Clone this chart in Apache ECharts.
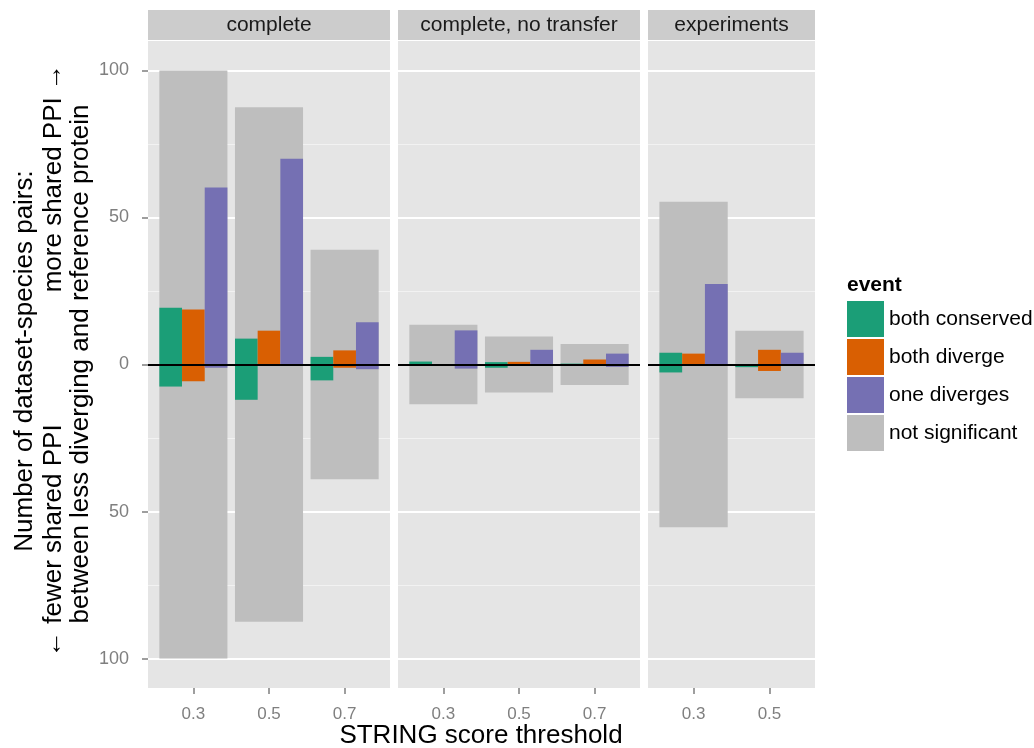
<!DOCTYPE html>
<html>
<head>
<meta charset="utf-8">
<script src="https://cdn.jsdelivr.net/npm/echarts@6/dist/echarts.min.js"></script>
<style>
html, body { margin: 0; padding: 0; background: #fff; }
#main { width: 1034px; height: 748px; }
</style>
</head>
<body>
<div id="main"></div>
<script>
// facets and x categories
var panels = ['complete', 'complete, no transfer', 'experiments'];
var thresholds = [['0.3', '0.5', '0.7'], ['0.3', '0.5', '0.7'], ['0.3', '0.5']];
var yTicks = [-100, -50, 0, 50, 100];
var yMinor = [-75, -25, 25, 75];

// grey band: +/- number of pairs that are not significant
var notSignificant = [[100, 87.5, 39], [13.5, 9.5, 7], [55.3, 11.5]];
// "more shared PPI" (up) and "fewer shared PPI" (down) per event
var conservedMore = [[19.3, 8.8, 2.6], [1.0, 0.8, 0.3], [4.0, 0]];
var conservedFewer = [[-7.5, -12, -5.4], [0, -1.1, 0], [-2.7, -0.9]];
var divergeMore = [[18.7, 11.5, 4.8], [0, 0.9, 1.7], [3.7, 5.0]];
var divergeFewer = [[-5.7, -0.3, -1.1], [0, 0, 0], [0, -2.2]];
var oneMore = [[60.2, 70, 14.4], [11.6, 5.0, 3.7], [27.4, 4.0]];
var oneFewer = [[-1.1, 0, -1.6], [-1.4, 0, -0.8], [0, 0]];

var FONT = 'Liberation Sans, Arial, Helvetica, sans-serif';
var myChart = echarts.init(document.getElementById('main'));

var lefts = [148, 398, 648], widths = [242, 242, 167];
var events = [
  {name: 'both conserved', color: '#1B9E77', up: conservedMore, down: conservedFewer},
  {name: 'both diverge', color: '#D95F02', up: divergeMore, down: divergeFewer},
  {name: 'one diverges', color: '#7570B3', up: oneMore, down: oneFewer}
];

function pts(arr) {
  return arr.map(function (v, i) { return [i + 1, v]; });
}

var grids = [], xAxes = [], yAxes = [], series = [], graphics = [];

for (var k = 0; k < panels.length; k++) {
  var n = thresholds[k].length;
  var pos = [];
  for (var i = 1; i <= n; i++) pos.push(i);

  grids.push({left: lefts[k], top: 41, width: widths[k], height: 647,
    show: true, backgroundColor: '#E5E5E5', borderWidth: 0});

  // hidden axis for the grey band, visible one for the dodged bars
  xAxes.push({type: 'value', gridIndex: k, position: 'top', min: 0.4, max: n + 0.6, show: false});
  xAxes.push({type: 'value', gridIndex: k, position: 'bottom', min: 0.4, max: n + 0.6,
    axisLine: {show: false},
    splitLine: {show: false},
    axisTick: {show: true, customValues: pos, length: 6, lineStyle: {color: '#7F7F7F', width: 1.5}},
    axisLabel: {show: true, customValues: pos, margin: 18, color: '#7F7F7F', fontSize: 17, fontFamily: FONT,
      formatter: (function (cats) { return function (v) { return cats[Math.round(v) - 1]; }; })(thresholds[k])}
  });

  yAxes.push({type: 'value', gridIndex: k, min: -110, max: 110,
    axisLine: {show: false},
    splitLine: {show: false},
    axisTick: {show: k === 0, customValues: yTicks, length: 6, lineStyle: {color: '#7F7F7F', width: 1.5}},
    axisLabel: {show: k === 0, customValues: yTicks, margin: 19, color: '#7F7F7F', fontSize: 18, fontFamily: FONT,
      formatter: function (v) { return Math.abs(v); }}
  });

  var gridLines = [];
  yTicks.forEach(function (v) { gridLines.push({yAxis: v, lineStyle: {color: '#FFFFFF', width: 2, type: 'solid'}}); });
  yMinor.forEach(function (v) { gridLines.push({yAxis: v, lineStyle: {color: '#F2F2F2', width: 1, type: 'solid'}}); });

  series.push({
    name: 'not significant', type: 'bar', xAxisIndex: 2 * k, yAxisIndex: k, stack: 'ns' + k,
    barWidth: '90%', itemStyle: {color: '#BEBEBE'}, data: pts(notSignificant[k]),
    markLine: {z: 1, silent: true, symbol: 'none', label: {show: false}, animation: false, data: gridLines}
  });
  series.push({
    name: 'not significant', type: 'bar', xAxisIndex: 2 * k, yAxisIndex: k, stack: 'ns' + k,
    barWidth: '90%', itemStyle: {color: '#BEBEBE'},
    data: pts(notSignificant[k].map(function (v) { return -v; }))
  });

  events.forEach(function (e, j) {
    series.push({
      name: e.name, type: 'bar', xAxisIndex: 2 * k + 1, yAxisIndex: k, stack: 'ev' + j + '_' + k,
      barWidth: '30%', barGap: '0%', itemStyle: {color: e.color}, data: pts(e.up[k])
    });
    var s = {
      name: e.name, type: 'bar', xAxisIndex: 2 * k + 1, yAxisIndex: k, stack: 'ev' + j + '_' + k,
      barWidth: '30%', barGap: '0%', itemStyle: {color: e.color}, data: pts(e.down[k])
    };
    if (j === events.length - 1) {
      s.markLine = {z: 10, silent: true, symbol: 'none', label: {show: false}, animation: false,
        data: [{yAxis: 0, lineStyle: {color: '#000000', width: 2, type: 'solid'}}]};
    }
    series.push(s);
  });

  // facet strip
  graphics.push({type: 'rect', shape: {x: lefts[k], y: 10, width: widths[k], height: 30},
    style: {fill: '#CCCCCC'}, z: 0});
  graphics.push({type: 'text', x: lefts[k] + widths[k] / 2, y: 25,
    style: {text: panels[k], fill: '#1A1A1A', font: '21px ' + FONT,
      align: 'center', verticalAlign: 'middle', textAlign: 'center', textVerticalAlign: 'middle'}});
}

// axis titles
function title(txt, x, y, rot, align, size, weight) {
  return {type: 'text', x: x, y: y, rotation: rot,
    style: {text: txt, fill: '#000', font: (weight || 'normal') + ' ' + size + 'px ' + FONT,
      align: align, verticalAlign: 'middle', textAlign: align, textVerticalAlign: 'middle'}};
}
graphics.push(title('STRING score threshold', 481, 736, 0, 'center', 26));
graphics.push(title('Number of dataset-species pairs:', 25, 361, Math.PI / 2, 'center', 26));
graphics.push(title('\u2190 fewer shared PPI', 54, 657, Math.PI / 2, 'left', 26));
graphics.push(title('more shared PPI \u2192', 54, 64, Math.PI / 2, 'right', 26));
graphics.push(title('between less diverging and reference protein', 81, 364, Math.PI / 2, 'center', 26));
graphics.push(title('event', 847, 285, 0, 'left', 21, 'bold'));

var option = {
  animation: false,
  textStyle: {fontFamily: FONT},
  grid: grids,
  xAxis: xAxes,
  yAxis: yAxes,
  legend: {
    orient: 'vertical', left: 847, top: 301, padding: 0,
    itemWidth: 37, itemHeight: 36, itemGap: 2, icon: 'rect', selectedMode: false,
    data: ['both conserved', 'both diverge', 'one diverges', 'not significant'],
    textStyle: {fontSize: 21, color: '#000', fontFamily: FONT}
  },
  graphic: graphics,
  series: series
};

myChart.setOption(option);
</script>
</body>
</html>
